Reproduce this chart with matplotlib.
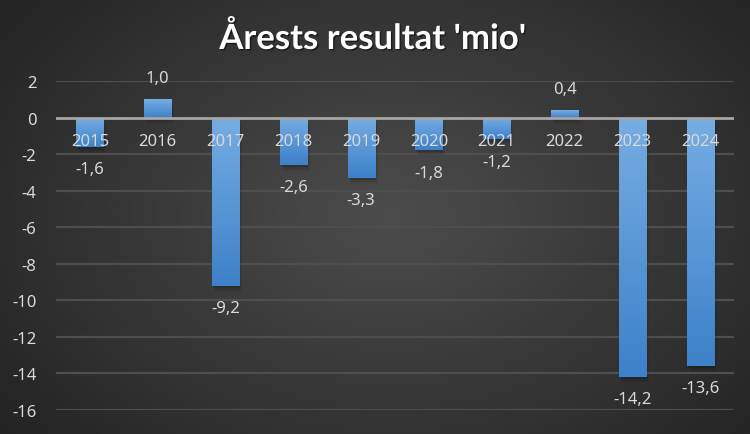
import numpy as np
import matplotlib.pyplot as plt
import matplotlib.patheffects as pe
from matplotlib import transforms
from matplotlib.colors import LinearSegmentedColormap

# data
years = ['2015', '2016', '2017', '2018', '2019', '2020', '2021', '2022', '2023', '2024']
resultat = [-1.6, 1.0, -9.2, -2.6, -3.3, -1.8, -1.2, 0.4, -14.2, -13.6]
yticks = [-16, -14, -12, -10, -8, -6, -4, -2, 0, 2]
title = "Årests resultat 'mio'"

plt.rcParams['font.family'] = ['Noto Sans', 'DejaVu Sans']
txt_col = '#d9d9d9'

W, H = 750, 435
fig = plt.figure(figsize=(W / 100, H / 100), dpi=100)

# radial grey background
yy, xx = np.mgrid[0:H, 0:W]
r = np.hypot((xx - 390) / 430, (yy - 215) / 300)
g = np.clip(0.30 - 0.14 * r, 0.12, 0.32)
fig.figimage(np.dstack([g, g, g]), xo=0, yo=0, origin='upper', zorder=-10)

ax = fig.add_axes([56 / W, 24 / H, 678 / W, 329 / H])
ax.set_zorder(1)
ax.patch.set_alpha(0)
ax.set_xlim(-0.5, len(years) - 0.5)
ax.set_ylim(-16, 2)

for t in yticks:
    if t != 0:
        ax.axhline(t, color='#4e4e4e', lw=1.6, zorder=1)

x = np.arange(len(years))
bw = 0.4

# soft shadow under bars
for k, (dx, dy, a) in enumerate([(1, -2, 0.12), (2, -4, 0.08), (3, -6, 0.05)]):
    shadow = ax.bar(x, resultat, width=bw, color='black', alpha=a, zorder=2)
    off = transforms.offset_copy(ax.transData, fig, x=dx, y=dy, units='dots')
    for p in shadow:
        p.set_transform(off)

bars = ax.bar(x, resultat, width=bw, color='#5b9bd5', zorder=3)
cmap = LinearSegmentedColormap.from_list('b', ['#76ade3', '#3d81c9'])
grad = np.linspace(0, 1, 256).reshape(-1, 1)
for b, v, xi in zip(bars, resultat, x):
    im = ax.imshow(grad, cmap=cmap, aspect='auto', origin='upper',
                   extent=(xi - bw / 2, xi + bw / 2, min(0, v), max(0, v)),
                   zorder=4)
    im.set_clip_path(b)

ax.set_xlim(-0.5, len(years) - 0.5)
ax.set_ylim(-16, 2)
ax.axhline(0, color='#a6a6a6', lw=2, zorder=5)

for xi, v, yr in zip(x, resultat, years):
    ax.annotate(yr, (xi, 0), xytext=(0, -17), textcoords='offset points',
                ha='center', va='center', color=txt_col, fontsize=12, zorder=6)
    lab = f'{v:.1f}'.replace('.', ',')
    dy = 15 if v > 0 else -16
    ax.annotate(lab, (xi, v), xytext=(0, dy), textcoords='offset points',
                ha='center', va='center', color=txt_col, fontsize=12, zorder=6)

ax.set_yticks(yticks)
ax.set_yticklabels([str(t) for t in yticks], color=txt_col, fontsize=12)
ax.tick_params(axis='y', length=0, pad=14)
ax.set_xticks([])
for s in ax.spines.values():
    s.set_visible(False)

fig.text(0.497, 1 - 50 / H, title, ha='center', va='baseline', color='white',
         fontsize=25, fontweight='bold', family=['Lato', 'DejaVu Sans'],
         path_effects=[pe.withSimplePatchShadow(offset=(1, -1), shadow_rgbFace='black', alpha=0.5)])

fig.savefig('out.png', dpi=100)
